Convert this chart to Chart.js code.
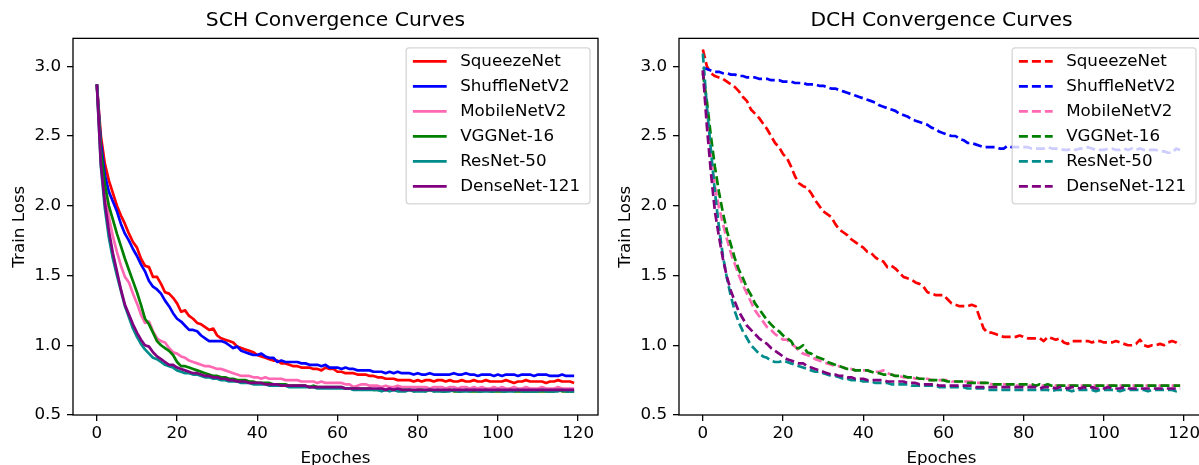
<!DOCTYPE html>
<html>
<head>
<meta charset="utf-8">
<title>Convergence Curves</title>
<script src="https://cdn.jsdelivr.net/npm/chart.js@4/dist/chart.umd.min.js"></script>
<style>
  html, body { margin: 0; padding: 0; background: #fff; overflow: hidden; }
  #wrap { position: relative; width: 1199px; height: 465px; overflow: hidden; }
  canvas { position: absolute; top: 0; }
  #sch { left: 0; }
  #dch { left: 606px; }
</style>
</head>
<body>
<div id="wrap">
  <canvas id="sch" width="606" height="480"></canvas>
  <canvas id="dch" width="606" height="480"></canvas>
</div>
<script>
// epochs 0..119
const epochs = Array.from({length: 120}, (_, i) => i);
const xTicks = [0, 20, 40, 60, 80, 100, 120];
const yTicks = [0.5, 1.0, 1.5, 2.0, 2.5, 3.0];

const netNames = ["SqueezeNet", "ShuffleNetV2", "MobileNetV2", "VGGNet-16", "ResNet-50", "DenseNet-121"];
const netColors = ["#ff0000", "#0000ff", "#ff69b4", "#008000", "#008b8b", "#800080"];

// SCH train loss
const schSqueeze = [
  2.87, 2.50, 2.30, 2.18, 2.09, 2.00, 1.93, 1.87, 1.80, 1.74,
  1.70, 1.62, 1.57, 1.56, 1.49, 1.49, 1.44, 1.38, 1.37, 1.34,
  1.30, 1.24, 1.25, 1.21, 1.19, 1.16, 1.15, 1.13, 1.11, 1.12,
  1.07, 1.05, 1.04, 1.03, 1.02, 0.99, 0.98, 0.97, 0.96, 0.95,
  0.93, 0.92, 0.91, 0.90, 0.89, 0.89, 0.87, 0.87, 0.86, 0.85,
  0.85, 0.84, 0.84, 0.84, 0.83, 0.83, 0.82, 0.84, 0.83, 0.83,
  0.81, 0.81, 0.80, 0.80, 0.80, 0.79, 0.79, 0.79, 0.78, 0.78,
  0.77, 0.77, 0.76, 0.76, 0.76, 0.75, 0.75, 0.75, 0.75, 0.74,
  0.75, 0.74, 0.75, 0.75, 0.74, 0.75, 0.75, 0.74, 0.75, 0.74,
  0.74, 0.75, 0.74, 0.74, 0.75, 0.74, 0.74, 0.75, 0.74, 0.74,
  0.74, 0.74, 0.75, 0.74, 0.73, 0.74, 0.74, 0.75, 0.74, 0.74,
  0.74, 0.74, 0.73, 0.74, 0.74, 0.75, 0.74, 0.74, 0.74, 0.73
];
const schShuffle = [
  2.87, 2.45, 2.22, 2.10, 2.03, 1.96, 1.87, 1.80, 1.75, 1.69,
  1.64, 1.58, 1.53, 1.46, 1.42, 1.40, 1.37, 1.32, 1.28, 1.23,
  1.19, 1.17, 1.14, 1.11, 1.11, 1.10, 1.07, 1.05, 1.03, 1.03,
  1.03, 1.03, 1.02, 1.00, 0.98, 0.99, 0.96, 0.95, 0.94, 0.93,
  0.93, 0.94, 0.92, 0.91, 0.91, 0.88, 0.89, 0.88, 0.88, 0.88,
  0.88, 0.87, 0.87, 0.86, 0.86, 0.86, 0.85, 0.86, 0.84, 0.84,
  0.84, 0.83, 0.84, 0.83, 0.83, 0.82, 0.82, 0.82, 0.82, 0.81,
  0.81, 0.81, 0.80, 0.81, 0.80, 0.81, 0.80, 0.80, 0.80, 0.79,
  0.80, 0.79, 0.79, 0.80, 0.79, 0.79, 0.79, 0.79, 0.79, 0.80,
  0.79, 0.79, 0.80, 0.79, 0.79, 0.78, 0.79, 0.79, 0.79, 0.78,
  0.79, 0.78, 0.79, 0.79, 0.79, 0.78, 0.79, 0.79, 0.79, 0.78,
  0.79, 0.79, 0.79, 0.78, 0.78, 0.78, 0.79, 0.78, 0.78, 0.78
];
const schMobile = [
  2.87, 2.36, 2.10, 1.92, 1.78, 1.67, 1.57, 1.49, 1.45, 1.37,
  1.30, 1.22, 1.16, 1.17, 1.10, 1.05, 1.03, 1.02, 0.98, 0.95,
  0.94, 0.92, 0.91, 0.89, 0.88, 0.87, 0.86, 0.85, 0.85, 0.84,
  0.83, 0.83, 0.82, 0.81, 0.80, 0.79, 0.78, 0.78, 0.78, 0.77,
  0.77, 0.76, 0.77, 0.76, 0.76, 0.76, 0.76, 0.75, 0.75, 0.75,
  0.75, 0.74, 0.74, 0.74, 0.74, 0.73, 0.74, 0.73, 0.73, 0.73,
  0.73, 0.73, 0.72, 0.72, 0.70, 0.71, 0.72, 0.72, 0.71, 0.71,
  0.71, 0.70, 0.71, 0.70, 0.70, 0.71, 0.70, 0.70, 0.70, 0.70,
  0.70, 0.70, 0.70, 0.69, 0.70, 0.70, 0.70, 0.69, 0.70, 0.70,
  0.69, 0.70, 0.70, 0.69, 0.70, 0.69, 0.70, 0.69, 0.69, 0.70,
  0.69, 0.70, 0.69, 0.69, 0.70, 0.69, 0.69, 0.70, 0.69, 0.69,
  0.69, 0.70, 0.69, 0.69, 0.69, 0.70, 0.69, 0.69, 0.69, 0.69
];
const schVgg = [
  2.87, 2.40, 2.15, 2.00, 1.90, 1.80, 1.71, 1.62, 1.54, 1.46,
  1.38, 1.29, 1.19, 1.15, 1.09, 1.03, 1.00, 0.98, 0.96, 0.93,
  0.88, 0.85, 0.85, 0.84, 0.83, 0.82, 0.81, 0.80, 0.79, 0.78,
  0.78, 0.77, 0.77, 0.76, 0.76, 0.75, 0.75, 0.75, 0.74, 0.74,
  0.73, 0.73, 0.73, 0.73, 0.72, 0.72, 0.72, 0.72, 0.71, 0.71,
  0.71, 0.71, 0.71, 0.70, 0.71, 0.70, 0.70, 0.70, 0.70, 0.70,
  0.70, 0.70, 0.69, 0.69, 0.69, 0.69, 0.69, 0.69, 0.69, 0.68,
  0.68, 0.68, 0.68, 0.68, 0.68, 0.68, 0.68, 0.68, 0.68, 0.67,
  0.68, 0.68, 0.67, 0.68, 0.67, 0.68, 0.67, 0.67, 0.68, 0.67,
  0.67, 0.67, 0.68, 0.67, 0.67, 0.67, 0.67, 0.68, 0.67, 0.67,
  0.67, 0.67, 0.67, 0.68, 0.67, 0.67, 0.67, 0.67, 0.67, 0.67,
  0.67, 0.67, 0.67, 0.67, 0.67, 0.68, 0.67, 0.67, 0.67, 0.67
];
const schRes = [
  2.87, 2.28, 1.98, 1.77, 1.62, 1.50, 1.39, 1.28, 1.20, 1.12,
  1.06, 1.01, 0.97, 0.94, 0.91, 0.90, 0.88, 0.86, 0.85, 0.84,
  0.82, 0.81, 0.80, 0.80, 0.79, 0.79, 0.78, 0.77, 0.77, 0.76,
  0.76, 0.75, 0.75, 0.74, 0.74, 0.74, 0.73, 0.73, 0.73, 0.72,
  0.72, 0.72, 0.72, 0.71, 0.71, 0.71, 0.71, 0.71, 0.70, 0.70,
  0.70, 0.70, 0.70, 0.70, 0.70, 0.69, 0.69, 0.69, 0.69, 0.69,
  0.69, 0.69, 0.69, 0.69, 0.68, 0.68, 0.68, 0.68, 0.68, 0.68,
  0.68, 0.67, 0.68, 0.67, 0.68, 0.67, 0.67, 0.67, 0.68, 0.67,
  0.67, 0.67, 0.67, 0.68, 0.67, 0.67, 0.67, 0.67, 0.67, 0.68,
  0.67, 0.67, 0.67, 0.67, 0.68, 0.67, 0.67, 0.67, 0.67, 0.67,
  0.68, 0.67, 0.67, 0.67, 0.67, 0.68, 0.67, 0.67, 0.67, 0.67,
  0.67, 0.68, 0.67, 0.67, 0.67, 0.67, 0.68, 0.67, 0.67, 0.67
];
const schDense = [
  2.87, 2.30, 2.02, 1.82, 1.66, 1.53, 1.40, 1.29, 1.22, 1.15,
  1.09, 1.04, 1.00, 0.99, 0.95, 0.92, 0.90, 0.88, 0.86, 0.86,
  0.84, 0.83, 0.82, 0.81, 0.80, 0.80, 0.79, 0.78, 0.78, 0.77,
  0.77, 0.76, 0.76, 0.75, 0.75, 0.74, 0.74, 0.74, 0.73, 0.73,
  0.73, 0.73, 0.72, 0.72, 0.72, 0.72, 0.71, 0.71, 0.71, 0.71,
  0.71, 0.71, 0.71, 0.70, 0.70, 0.70, 0.70, 0.70, 0.70, 0.70,
  0.70, 0.70, 0.69, 0.69, 0.69, 0.69, 0.69, 0.69, 0.69, 0.69,
  0.69, 0.69, 0.68, 0.69, 0.68, 0.69, 0.68, 0.68, 0.68, 0.68,
  0.68, 0.68, 0.68, 0.68, 0.68, 0.68, 0.68, 0.68, 0.68, 0.68,
  0.68, 0.68, 0.68, 0.68, 0.68, 0.68, 0.68, 0.68, 0.68, 0.68,
  0.68, 0.68, 0.68, 0.68, 0.68, 0.68, 0.68, 0.68, 0.68, 0.68,
  0.68, 0.68, 0.68, 0.68, 0.68, 0.68, 0.68, 0.68, 0.68, 0.68
];

// DCH train loss
const dchSqueeze = [
  3.12, 3.00, 2.95, 2.93, 2.92, 2.91, 2.89, 2.87, 2.85, 2.82,
  2.78, 2.75, 2.69, 2.66, 2.63, 2.59, 2.55, 2.50, 2.45, 2.42,
  2.37, 2.34, 2.28, 2.21, 2.16, 2.14, 2.13, 2.09, 2.04, 2.00,
  1.96, 1.94, 1.92, 1.87, 1.83, 1.81, 1.79, 1.76, 1.74, 1.72,
  1.70, 1.67, 1.66, 1.63, 1.61, 1.60, 1.56, 1.57, 1.55, 1.52,
  1.49, 1.48, 1.47, 1.45, 1.44, 1.42, 1.38, 1.37, 1.36, 1.36,
  1.36, 1.33, 1.30, 1.29, 1.28, 1.28, 1.28, 1.29, 1.28, 1.20,
  1.12, 1.09, 1.09, 1.08, 1.07, 1.06, 1.06, 1.06, 1.06, 1.07,
  1.06, 1.05, 1.05, 1.05, 1.05, 1.03, 1.06, 1.05, 1.04, 1.05,
  1.02, 1.01, 1.03, 1.03, 1.03, 1.03, 1.03, 1.02, 1.03, 1.03,
  1.02, 1.02, 1.02, 1.03, 1.02, 1.01, 1.00, 1.00, 1.01, 1.04,
  1.00, 0.99, 1.00, 1.00, 1.01, 1.00, 1.02, 1.03, 1.02, 1.00
];
const dchShuffle = [
  2.99, 2.98, 2.97, 2.96, 2.96, 2.95, 2.95, 2.94, 2.94, 2.93,
  2.93, 2.92, 2.92, 2.92, 2.91, 2.91, 2.91, 2.90, 2.90, 2.90,
  2.89, 2.89, 2.89, 2.88, 2.88, 2.88, 2.87, 2.87, 2.87, 2.86,
  2.86, 2.85, 2.84, 2.84, 2.83, 2.82, 2.81, 2.80, 2.79, 2.78,
  2.77, 2.76, 2.75, 2.74, 2.72, 2.71, 2.70, 2.69, 2.68, 2.66,
  2.65, 2.64, 2.62, 2.61, 2.60, 2.59, 2.58, 2.56, 2.55, 2.53,
  2.52, 2.51, 2.50, 2.50, 2.48, 2.47, 2.45, 2.45, 2.44, 2.43,
  2.42, 2.42, 2.42, 2.42, 2.41, 2.41, 2.43, 2.42, 2.42, 2.42,
  2.42, 2.42, 2.41, 2.41, 2.41, 2.41, 2.42, 2.41, 2.41, 2.41,
  2.40, 2.40, 2.41, 2.40, 2.41, 2.41, 2.42, 2.41, 2.40, 2.40,
  2.40, 2.41, 2.41, 2.40, 2.40, 2.41, 2.40, 2.41, 2.40, 2.41,
  2.40, 2.40, 2.40, 2.40, 2.39, 2.39, 2.38, 2.38, 2.41, 2.40
];
const dchMobile = [
  2.97, 2.62, 2.36, 2.14, 1.99, 1.87, 1.76, 1.66, 1.58, 1.50,
  1.43, 1.37, 1.31, 1.25, 1.21, 1.17, 1.13, 1.11, 1.08, 1.06,
  1.04, 1.04, 1.01, 0.99, 0.96, 0.94, 0.93, 0.92, 0.90, 0.89,
  0.88, 0.87, 0.86, 0.85, 0.85, 0.84, 0.83, 0.83, 0.82, 0.82,
  0.82, 0.82, 0.81, 0.81, 0.81, 0.82, 0.80, 0.79, 0.78, 0.78,
  0.77, 0.77, 0.77, 0.76, 0.76, 0.76, 0.76, 0.75, 0.75, 0.75,
  0.75, 0.75, 0.74, 0.74, 0.74, 0.74, 0.74, 0.74, 0.73, 0.73,
  0.73, 0.73, 0.72, 0.72, 0.72, 0.72, 0.72, 0.72, 0.71, 0.71,
  0.71, 0.71, 0.71, 0.71, 0.71, 0.71, 0.71, 0.71, 0.71, 0.71,
  0.71, 0.71, 0.71, 0.71, 0.71, 0.71, 0.71, 0.71, 0.71, 0.71,
  0.71, 0.71, 0.71, 0.71, 0.71, 0.71, 0.71, 0.71, 0.71, 0.71,
  0.71, 0.71, 0.71, 0.71, 0.71, 0.71, 0.71, 0.71, 0.71, 0.71
];
const dchVgg = [
  2.95, 2.75, 2.50, 2.28, 2.10, 1.95, 1.82, 1.72, 1.62, 1.54,
  1.48, 1.41, 1.36, 1.30, 1.26, 1.22, 1.18, 1.15, 1.12, 1.10,
  1.07, 1.05, 1.03, 0.98, 0.98, 1.00, 0.95, 0.94, 0.92, 0.91,
  0.90, 0.88, 0.87, 0.86, 0.85, 0.84, 0.83, 0.83, 0.82, 0.82,
  0.82, 0.82, 0.81, 0.80, 0.80, 0.79, 0.79, 0.79, 0.78, 0.78,
  0.78, 0.77, 0.77, 0.77, 0.76, 0.76, 0.75, 0.75, 0.75, 0.75,
  0.75, 0.74, 0.74, 0.74, 0.74, 0.74, 0.73, 0.73, 0.73, 0.73,
  0.73, 0.73, 0.72, 0.72, 0.72, 0.72, 0.72, 0.72, 0.72, 0.72,
  0.72, 0.72, 0.72, 0.71, 0.72, 0.71, 0.72, 0.71, 0.71, 0.71,
  0.71, 0.71, 0.71, 0.71, 0.71, 0.71, 0.71, 0.71, 0.71, 0.71,
  0.71, 0.71, 0.71, 0.71, 0.71, 0.71, 0.71, 0.71, 0.71, 0.71,
  0.71, 0.71, 0.71, 0.71, 0.71, 0.71, 0.71, 0.71, 0.71, 0.71
];
const dchRes = [
  3.09, 2.71, 2.40, 2.10, 1.85, 1.64, 1.48, 1.35, 1.24, 1.16,
  1.10, 1.05, 1.00, 0.97, 0.94, 0.92, 0.91, 0.89, 0.88, 0.88,
  0.89, 0.88, 0.87, 0.86, 0.85, 0.84, 0.83, 0.82, 0.81, 0.81,
  0.80, 0.79, 0.78, 0.78, 0.77, 0.76, 0.76, 0.75, 0.75, 0.75,
  0.74, 0.74, 0.74, 0.73, 0.73, 0.73, 0.73, 0.72, 0.72, 0.72,
  0.72, 0.72, 0.71, 0.71, 0.71, 0.71, 0.71, 0.71, 0.71, 0.70,
  0.70, 0.70, 0.70, 0.70, 0.70, 0.70, 0.69, 0.69, 0.69, 0.69,
  0.69, 0.68, 0.68, 0.68, 0.68, 0.68, 0.68, 0.68, 0.68, 0.68,
  0.68, 0.68, 0.68, 0.68, 0.68, 0.68, 0.68, 0.67, 0.68, 0.68,
  0.68, 0.68, 0.67, 0.68, 0.68, 0.68, 0.68, 0.68, 0.67, 0.68,
  0.68, 0.68, 0.68, 0.68, 0.67, 0.68, 0.68, 0.68, 0.68, 0.68,
  0.68, 0.67, 0.68, 0.68, 0.68, 0.68, 0.68, 0.68, 0.67, 0.68
];
const dchDense = [
  2.97, 2.57, 2.24, 1.96, 1.78, 1.62, 1.49, 1.39, 1.31, 1.24,
  1.19, 1.14, 1.11, 1.08, 1.05, 1.03, 1.01, 0.98, 0.96, 0.94,
  0.92, 0.90, 0.89, 0.88, 0.87, 0.87, 0.85, 0.84, 0.83, 0.82,
  0.81, 0.80, 0.79, 0.79, 0.78, 0.78, 0.77, 0.77, 0.76, 0.76,
  0.76, 0.75, 0.75, 0.75, 0.75, 0.75, 0.74, 0.74, 0.74, 0.74,
  0.74, 0.73, 0.73, 0.73, 0.72, 0.72, 0.72, 0.72, 0.72, 0.71,
  0.71, 0.71, 0.71, 0.71, 0.71, 0.71, 0.71, 0.71, 0.70, 0.70,
  0.70, 0.70, 0.70, 0.70, 0.70, 0.70, 0.70, 0.70, 0.70, 0.70,
  0.70, 0.70, 0.70, 0.70, 0.69, 0.70, 0.70, 0.70, 0.69, 0.70,
  0.70, 0.69, 0.70, 0.70, 0.69, 0.70, 0.69, 0.70, 0.69, 0.69,
  0.69, 0.70, 0.69, 0.69, 0.69, 0.70, 0.69, 0.69, 0.69, 0.69,
  0.69, 0.69, 0.69, 0.69, 0.69, 0.69, 0.69, 0.69, 0.69, 0.69
];

const FONT = "'DejaVu Sans', 'Liberation Sans', sans-serif";
const FS = 16.7;
const LINE_W = 2.7;
Chart.defaults.font.family = FONT;
Chart.defaults.color = "#000";

// black box round the plot area, like matplotlib spines
const frameBox = {
  id: "frameBox",
  afterDatasetsDraw(chart) {
    const {ctx, chartArea: a} = chart;
    ctx.save();
    ctx.strokeStyle = "#000";
    ctx.lineWidth = 1.3;
    ctx.strokeRect(a.left, a.top, a.right - a.left, a.bottom - a.top);
    ctx.restore();
  }
};

// legend drawn inside the plot (upper right), semi transparent white frame
const innerLegend = {
  id: "innerLegend",
  afterDatasetsDraw(chart) {
    const {ctx, chartArea: a} = chart;
    const sets = chart.data.datasets;
    ctx.save();
    ctx.font = FS + "px " + FONT;
    let maxW = 0;
    sets.forEach(d => { maxW = Math.max(maxW, ctx.measureText(d.label).width); });
    const w = 54 + maxW + 10;
    const h = 156;
    const x0 = a.right - 8 - w;
    const y0 = a.top + 9.5;

    ctx.beginPath();
    ctx.roundRect(x0, y0, w, h, 3);
    ctx.fillStyle = "rgba(255,255,255,0.8)";
    ctx.fill();
    ctx.strokeStyle = "rgba(204,204,204,0.8)";
    ctx.lineWidth = 1.3;
    ctx.stroke();

    sets.forEach((d, i) => {
      const y = y0 + 13.5 + 25 * i;
      ctx.beginPath();
      ctx.setLineDash(d.borderDash || []);
      ctx.strokeStyle = d.borderColor;
      ctx.lineWidth = d.borderWidth;
      ctx.moveTo(x0 + 6.7, y);
      ctx.lineTo(x0 + 40.5, y);
      ctx.stroke();
      ctx.setLineDash([]);
      ctx.fillStyle = "#000";
      ctx.textBaseline = "middle";
      ctx.textAlign = "left";
      ctx.fillText(d.label, x0 + 54, y);
    });
    ctx.restore();
  }
};

function buildDatasets(series, dashed) {
  return series.map((vals, i) => ({
    label: netNames[i],
    data: vals.map((v, k) => ({x: epochs[k], y: v})),
    borderColor: netColors[i],
    borderWidth: LINE_W,
    borderDash: dashed ? [9, 4] : [],
    borderJoinStyle: "round",
    pointRadius: 0,
    tension: 0,
    fill: false,
    order: series.length - i   // later series drawn on top
  }));
}

function makeChart(id, titleText, series, dashed) {
  return new Chart(document.getElementById(id), {
    type: "line",
    data: {datasets: buildDatasets(series, dashed)},
    options: {
      responsive: false,
      animation: false,
      events: [],
      layout: {padding: {left: 0, right: 8, top: 0, bottom: 0}},
      plugins: {
        legend: {display: false},
        tooltip: {enabled: false},
        title: {
          display: true,
          text: titleText,
          fullSize: false,
          color: "#000",
          font: {size: 20.3, weight: "normal", family: FONT},
          padding: {top: 9, bottom: 5}
        }
      },
      scales: {
        x: {
          type: "linear",
          min: -5.95,
          max: 124.95,
          afterBuildTicks: s => { s.ticks = xTicks.map(v => ({value: v})); },
          afterFit: s => { s.height = 65; },
          grid: {drawOnChartArea: false, tickLength: 6, color: "#000", lineWidth: 1.3},
          border: {display: false},
          ticks: {font: {size: FS}, color: "#000", padding: 3, maxRotation: 0,
                  callback: v => String(v)},
          title: {display: true, text: "Epoches", color: "#000",
                  font: {size: FS}, padding: {top: 0, bottom: 11}}
        },
        y: {
          min: 0.5,
          max: 3.2,
          afterBuildTicks: s => { s.ticks = yTicks.map(v => ({value: v})); },
          afterFit: s => { s.width = 73; },
          grid: {drawOnChartArea: false, tickLength: 6, color: "#000", lineWidth: 1.3},
          border: {display: false},
          ticks: {font: {size: FS}, color: "#000", padding: 6,
                  callback: v => Number(v).toFixed(1)},
          title: {display: true, text: "Train Loss", color: "#000",
                  font: {size: FS}, padding: {top: 9.5, bottom: 0}}
        }
      }
    },
    plugins: [frameBox, innerLegend]
  });
}

makeChart("sch", "SCH Convergence Curves",
  [schSqueeze, schShuffle, schMobile, schVgg, schRes, schDense], false);
makeChart("dch", "DCH Convergence Curves",
  [dchSqueeze, dchShuffle, dchMobile, dchVgg, dchRes, dchDense], true);
</script>
</body>
</html>
